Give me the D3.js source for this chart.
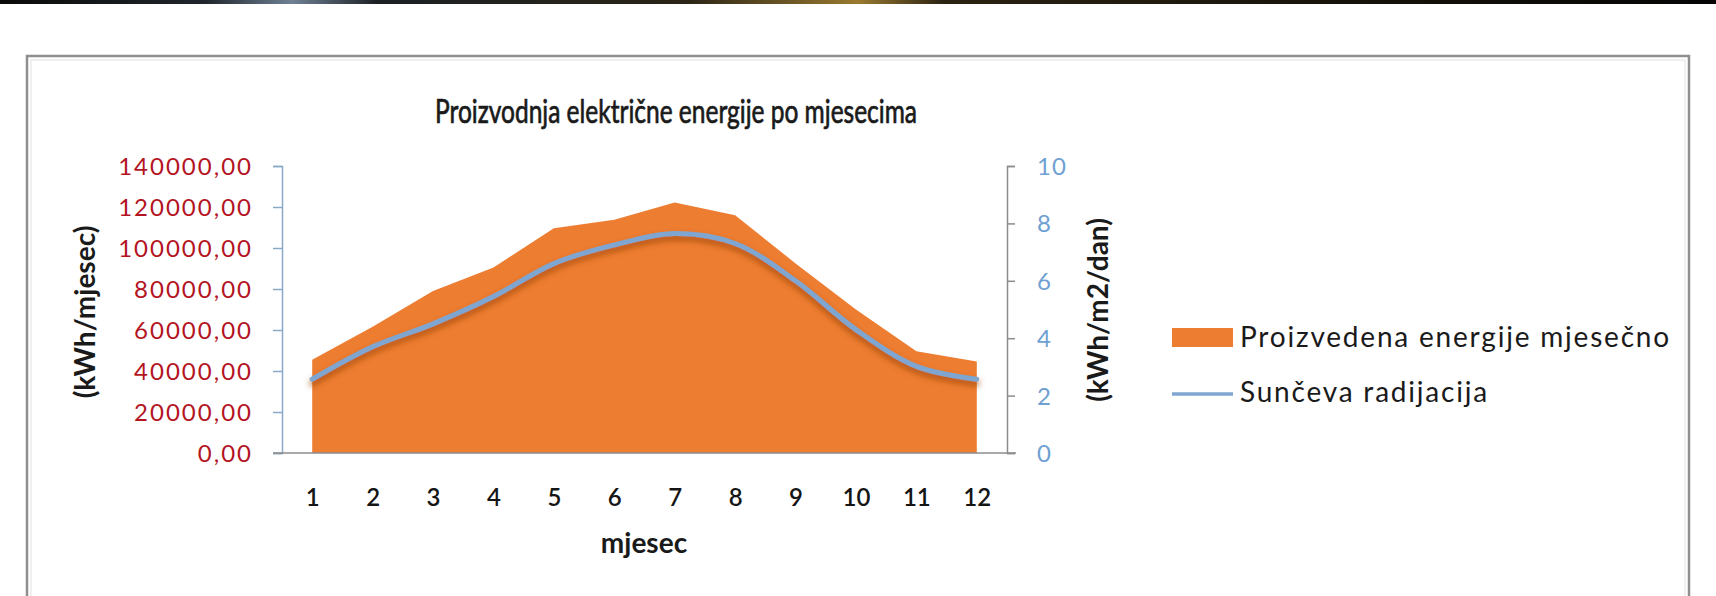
<!DOCTYPE html>
<html>
<head>
<meta charset="utf-8">
<script src="https://cdnjs.cloudflare.com/ajax/libs/d3/7.8.5/d3.min.js"></script>
<style>
  html, body { margin:0; padding:0; background:#fff; }
  #chart { width:1716px; height:596px; }
  text { font-family: Lato, "Noto Sans", sans-serif; }
</style>
</head>
<body>
<div id="chart"></div>
<script>
  // data
  var months = [1, 2, 3, 4, 5, 6, 7, 8, 9, 10, 11, 12];
  var energy = [45500, 61600, 79000, 90500, 109600, 113800, 122200, 116000, 92500, 70000, 49600, 44600];
  var radiation = [2.57, 3.7, 4.5, 5.45, 6.6, 7.25, 7.65, 7.3, 6.0, 4.3, 3.02, 2.57];
  var leftTicks = [0, 20000, 40000, 60000, 80000, 100000, 120000, 140000];
  var rightTicks = [0, 2, 4, 6, 8, 10];
  var title = "Proizvodnja električne energije po mjesecima";
  var seriesNames = ["Proizvedena energije mjesečno", "Sunčeva radijacija"];

  var W = 1716, H = 596;
  var orange = "#ed7d31", blue = "#7ea6d0";

  var svg = d3.select("#chart").append("svg")
      .attr("width", W).attr("height", H);

  var defs = svg.append("defs");
  // dark strip on top of the page
  var grad = defs.append("linearGradient").attr("id", "strip");
  [[0, "#0a0a08"], [0.12, "#20262c"], [0.17, "#6f8194"], [0.22, "#1c2024"],
   [0.40, "#2a2416"], [0.50, "#9a7a30"], [0.55, "#2a2212"], [1, "#050505"]]
    .forEach(function(s) { grad.append("stop").attr("offset", s[0]).attr("stop-color", s[1]); });
  var shadow = defs.append("filter").attr("id", "shadow")
      .attr("x", "-5%").attr("y", "-20%").attr("width", "110%").attr("height", "140%");
  shadow.append("feDropShadow").attr("dx", 0).attr("dy", 4).attr("stdDeviation", 3)
      .attr("flood-color", "#a0480a").attr("flood-opacity", 0.9);

  svg.append("rect").attr("x", 0).attr("y", 0).attr("width", W).attr("height", 4)
      .attr("fill", "url(#strip)");

  // chart frame
  svg.append("rect").attr("x", 27).attr("y", 56).attr("width", 1662).attr("height", 580)
      .attr("fill", "#fff").attr("stroke", "#8f8f8f").attr("stroke-width", 2.5);
  svg.append("rect").attr("x", 31).attr("y", 60).attr("width", 1654).attr("height", 580)
      .attr("fill", "none").attr("stroke", "#ececec").attr("stroke-width", 1.5);

  // scales
  var x = d3.scalePoint().domain(months).range([282, 1007]).padding(0.5);
  var yL = d3.scaleLinear().domain([0, 140000]).range([453, 166]);
  var yR = d3.scaleLinear().domain([0, 10]).range([453, 166]);

  // area
  var area = d3.area()
      .x(function(d, i) { return x(months[i]); })
      .y0(yL(0))
      .y1(function(d) { return yL(d); });
  svg.append("path").datum(energy).attr("d", area).attr("fill", orange);

  // radiation line (smoothed)
  var line = d3.line()
      .x(function(d, i) { return x(months[i]); })
      .y(function(d) { return yR(d); })
      .curve(d3.curveCatmullRom.alpha(0.5));
  svg.append("path").datum(radiation).attr("d", line)
      .attr("fill", "none").attr("stroke", blue).attr("stroke-width", 5)
      .attr("stroke-linecap", "round").attr("filter", "url(#shadow)");

  var fmt = function(v) { return d3.format(".2f")(v).replace(".", ","); };

  // left axis
  var gL = svg.append("g").attr("transform", "translate(282,0)")
      .call(d3.axisLeft(yL).tickValues(leftTicks).tickFormat(fmt).tickSize(9).tickPadding(20));
  gL.select(".domain").attr("stroke", "#8aa8c8").attr("stroke-width", 1.5);
  gL.selectAll(".tick line").attr("stroke", "#8aa8c8").attr("stroke-width", 1.5);
  gL.selectAll(".tick text").attr("fill", "#b3141f").attr("font-size", 24)
      .attr("letter-spacing", 2)
      .attr("font-family", "Lato, sans-serif").attr("dy", "0.35em");

  // right axis
  var gR = svg.append("g").attr("transform", "translate(1007,0)")
      .call(d3.axisRight(yR).tickValues(rightTicks).tickSize(8).tickPadding(22));
  gR.select(".domain").attr("stroke", "#8c8c8c").attr("stroke-width", 1.5);
  gR.selectAll(".tick line").attr("stroke", "#8c8c8c").attr("stroke-width", 1.5);
  gR.selectAll(".tick text").attr("fill", "#6fa0d2").attr("font-size", 24)
      .attr("letter-spacing", 1)
      .attr("font-family", "Lato, sans-serif").attr("dy", "0.35em");

  // bottom axis
  var gB = svg.append("g").attr("transform", "translate(0,453)")
      .call(d3.axisBottom(x).tickSize(0).tickPadding(36));
  gB.select(".domain").attr("stroke", "#8c8c8c").attr("stroke-width", 1.5)
      .attr("d", "M273,0H1016");
  gB.selectAll(".tick text").attr("fill", "#151515").attr("font-size", 24)
      .attr("font-family", "Lato, sans-serif").attr("font-weight", 600);

  // titles
  svg.append("text").attr("x", 676).attr("y", 123).attr("text-anchor", "middle")
      .attr("font-size", 32).attr("font-weight", 400).attr("fill", "#1a1a1a")
      .attr("stroke", "#1a1a1a").attr("stroke-width", 0.7)
      .attr("textLength", 482).attr("lengthAdjust", "spacingAndGlyphs").text(title);
  svg.append("text").attr("x", 644).attr("y", 553).attr("text-anchor", "middle")
      .attr("font-size", 28).attr("font-weight", 700).attr("fill", "#1a1a1a").text("mjesec");
  svg.append("text").attr("transform", "translate(95,312) rotate(-90)")
      .attr("text-anchor", "middle").attr("font-size", 28).attr("font-weight", 700)
      .attr("fill", "#1a1a1a").text("(kWh/mjesec)");
  svg.append("text").attr("transform", "translate(1108,310) rotate(-90)")
      .attr("text-anchor", "middle").attr("font-size", 28).attr("font-weight", 700)
      .attr("fill", "#1a1a1a").text("(kWh/m2/dan)");

  // legend
  var lg = svg.append("g");
  lg.append("rect").attr("x", 1172).attr("y", 328).attr("width", 61).attr("height", 19)
      .attr("fill", orange);
  lg.append("line").attr("x1", 1172).attr("x2", 1233).attr("y1", 394).attr("y2", 394)
      .attr("stroke", blue).attr("stroke-width", 3.5);
  lg.selectAll("text.lbl").data(seriesNames).enter().append("text")
      .attr("class", "lbl").attr("x", 1240)
      .attr("y", function(d, i) { return i === 0 ? 347 : 402; })
      .attr("font-size", 28).attr("letter-spacing", 1.8)
      .attr("fill", "#1a1a1a").text(function(d) { return d; });
</script>
</body>
</html>
